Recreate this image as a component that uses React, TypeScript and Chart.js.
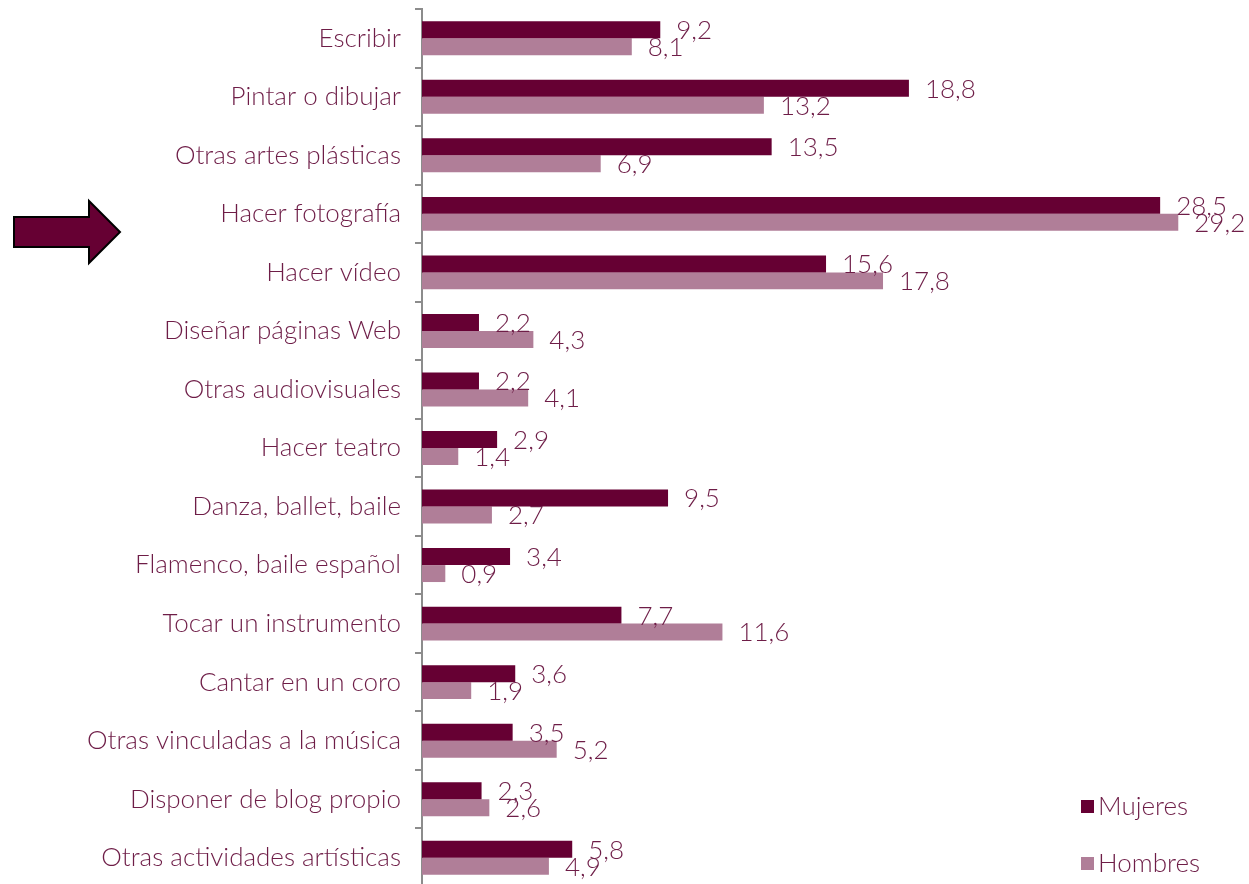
import React, { useEffect, useRef } from "react";
import { Chart, registerables } from "chart.js";

Chart.register(...registerables);

const categories = [
  "Escribir",
  "Pintar o dibujar",
  "Otras artes plásticas",
  "Hacer fotografía",
  "Hacer vídeo",
  "Diseñar páginas Web",
  "Otras audiovisuales",
  "Hacer teatro",
  "Danza, ballet, baile",
  "Flamenco, baile español",
  "Tocar un instrumento",
  "Cantar en un coro",
  "Otras vinculadas a la música",
  "Disponer de blog propio",
  "Otras actividades artísticas",
];

const mujeres = [9.2, 18.8, 13.5, 28.5, 15.6, 2.2, 2.2, 2.9, 9.5, 3.4, 7.7, 3.6, 3.5, 2.3, 5.8];
const hombres = [8.1, 13.2, 6.9, 29.2, 17.8, 4.3, 4.1, 1.4, 2.7, 0.9, 11.6, 1.9, 5.2, 2.6, 4.9];

const seriesNames = ["Mujeres", "Hombres"];

const COL_M = "#660033";
const COL_H = "#B07E98";
const TEXT = "#6E1D47";
const FONT_FAMILY = "Lato, 'Open Sans', sans-serif";
const FONT_SIZE = 26;

const fmt = (v: number) => v.toFixed(1).replace(".", ",");

const labelsPlugin = {
  id: "barLabels",
  afterDatasetsDraw(chart: any) {
    const ctx = chart.ctx;
    ctx.save();
    ctx.font = `300 ${FONT_SIZE}px ${FONT_FAMILY}`;
    ctx.fillStyle = TEXT;
    ctx.textAlign = "left";
    ctx.textBaseline = "middle";
    chart.data.datasets.forEach((ds: any, di: number) => {
      const meta = chart.getDatasetMeta(di);
      meta.data.forEach((bar: any, i: number) => {
        ctx.fillText(fmt(ds.data[i]), bar.x + 16, bar.y + 1);
      });
    });
    ctx.restore();
  },
};

const legendPlugin = {
  id: "customLegend",
  afterDraw(chart: any) {
    const ctx = chart.ctx;
    ctx.save();
    ctx.font = `300 ${FONT_SIZE}px ${FONT_FAMILY}`;
    ctx.textAlign = "left";
    ctx.textBaseline = "middle";
    const items = [
      { y: 806, color: COL_M, text: seriesNames[0] },
      { y: 863, color: COL_H, text: seriesNames[1] },
    ];
    items.forEach((it) => {
      ctx.fillStyle = it.color;
      ctx.fillRect(1081, it.y - 6, 13, 13);
      ctx.fillStyle = TEXT;
      ctx.fillText(it.text, 1098, it.y + 1);
    });
    ctx.restore();
  },
};

const arrowPlugin = {
  id: "arrow",
  afterDraw(chart: any) {
    const ctx = chart.ctx;
    ctx.save();
    ctx.beginPath();
    ctx.moveTo(14, 217);
    ctx.lineTo(89, 217);
    ctx.lineTo(89, 201);
    ctx.lineTo(120, 232);
    ctx.lineTo(89, 263);
    ctx.lineTo(89, 247);
    ctx.lineTo(14, 247);
    ctx.closePath();
    ctx.fillStyle = COL_M;
    ctx.fill();
    ctx.lineWidth = 2;
    ctx.strokeStyle = "#000";
    ctx.stroke();
    ctx.restore();
  },
};

export default function App() {
  const ref = useRef<HTMLCanvasElement | null>(null);

  useEffect(() => {
    if (!ref.current) return;
    const chart = new Chart(ref.current, {
      type: "bar",
      data: {
        labels: categories,
        datasets: [
          {
            label: seriesNames[0],
            data: mujeres,
            backgroundColor: COL_M,
            borderWidth: 0,
            barPercentage: 1,
            categoryPercentage: 0.58,
          },
          {
            label: seriesNames[1],
            data: hombres,
            backgroundColor: COL_H,
            borderWidth: 0,
            barPercentage: 1,
            categoryPercentage: 0.58,
          },
        ],
      },
      options: {
        indexAxis: "y",
        responsive: false,
        animation: false,
        layout: { padding: { top: 9, right: 50, bottom: 0, left: 0 } },
        plugins: {
          legend: { display: false },
          tooltip: { enabled: false },
        },
        scales: {
          x: {
            display: false,
            min: 0,
            max: 30,
          },
          y: {
            afterFit: (s: any) => {
              s.width = 422;
              s.paddingTop = 0;
              s.paddingBottom = 0;
            },
            grid: {
              drawOnChartArea: false,
              drawTicks: true,
              tickLength: 7,
              color: "#8c8c8c",
              lineWidth: 2,
              offset: true,
            },
            border: { display: true, color: "#8c8c8c", width: 2 },
            ticks: {
              color: TEXT,
              padding: 14,
              font: { family: FONT_FAMILY, size: FONT_SIZE, weight: "300" as any },
            },
          },
        },
      },
      plugins: [labelsPlugin, legendPlugin, arrowPlugin],
    });
    return () => chart.destroy();
  }, []);

  return (
    <div
      style={{
        position: "absolute",
        left: 0,
        top: 0,
        width: 1249,
        height: 884,
        overflow: "hidden",
        background: "#fff",
      }}
    >
      <canvas ref={ref} width={1249} height={887} style={{ display: "block" }} />
    </div>
  );
}
